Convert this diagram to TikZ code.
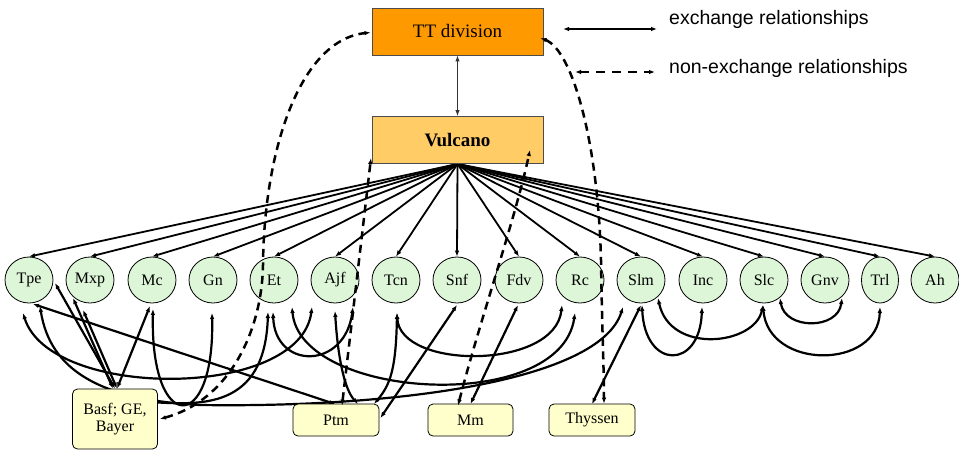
\documentclass[tikz,border=0pt]{standalone}
\usepackage{fontspec}
\setmainfont{Liberation Serif}
\newfontfamily\lsans{Liberation Sans}
\usetikzlibrary{arrows.meta,shapes.geometric,backgrounds}
\definecolor{ttorange}{HTML}{FF9900}
\definecolor{vulc}{HTML}{FFCC66}
\definecolor{cgreen}{HTML}{DDF6D8}
\definecolor{cyellow}{HTML}{FFFFCC}
\tikzset{
  >={Latex[length=6pt,width=4.6pt]},
  circ/.style={ellipse,draw=black,line width=0.8pt,fill=cgreen,minimum width=48pt,minimum height=46pt,inner sep=0pt,font=\fontsize{16}{18}\selectfont},
  ybox/.style={rectangle,rounded corners=5pt,draw=black,line width=0.8pt,fill=cyellow,minimum width=86pt,minimum height=32pt,inner sep=0pt,font=\fontsize{16}{17}\selectfont},
  topbox/.style={rectangle,draw=black!70,line width=0.9pt,minimum width=171pt,minimum height=47pt,inner sep=0pt},
  ex/.style={line width=2.2pt,<->},
  exone/.style={line width=2.2pt,<-},
  fan/.style={line width=1.8pt,->},
  nex/.style={line width=2.5pt,dash pattern=on 8pt off 5.5pt,<->},
  legtext/.style={anchor=west,font=\lsans\fontsize{19.5}{22}\selectfont,inner sep=0pt}
}
\begin{document}
\begin{tikzpicture}[x=1pt,y=-1pt]
\useasboundingbox (0,0) rectangle (959,450);
% top boxes
\node[topbox,fill=ttorange,font=\fontsize{19}{21}\selectfont] (tt) at (457.5,31.5) {TT division};
\node[topbox,fill=vulc,font=\fontsize{19}{21}\selectfont\bfseries] (vul) at (457.5,140) {Vulcano};
% circles
\node[circ] (tpe) at (29,280) {Tpe};
\node[circ] (mxp) at (90,280) {Mxp};
\node[circ] (mc) at (152,280) {Mc};
\node[circ] (gn) at (213,280) {Gn};
\node[circ] (et) at (274,280) {Et};
\node[circ] (ajf) at (335,280) {Ajf};
\node[circ] (tcn) at (396,280) {Tcn};
\node[circ] (snf) at (457,280) {Snf};
\node[circ] (fdv) at (519,280) {Fdv};
\node[circ] (rc) at (580,280) {Rc};
\node[circ] (slm) at (641,280) {Slm};
\node[circ] (inc) at (703,280) {Inc};
\node[circ] (slc) at (764,280) {Slc};
\node[circ] (gnv) at (825,280) {Gnv};
\node[circ,minimum width=37pt] (trl) at (880,280) {Trl};
\node[circ] (ah) at (935,280) {Ah};
% bottom boxes
\node[ybox,minimum width=85pt,minimum height=60pt,align=center] (basf) at (115,419) {Basf; GE,\\Bayer};
\node[ybox] (ptm) at (336,420) {Ptm};
\node[ybox,minimum width=85pt] (mm) at (470.5,420) {Mm};
\node[ybox] (thy) at (592,420) {Thyssen};
% legend
\coordinate (l1a) at (563,29);
\coordinate (l1b) at (657,29);
\coordinate (l2a) at (575,72);
\coordinate (l2b) at (655,72);
\draw[line width=1.3pt,<->] (l1a) -- (l1b);
\draw[nex,dash pattern=on 9pt off 7pt] (l2a) -- (l2b);
\node[legtext] (lt1) at (669,19) {exchange relationships};
\node[legtext] (lt2) at (669,68) {non-exchange relationships};

\begin{pgfonlayer}{background}
% TT -- Vulcano
\draw[line width=1pt,draw=black!80,{Latex[length=6pt,width=4.5pt]}-{Latex[length=6pt,width=4.5pt]}] (tt.south) -- (vul.north);
% fan
\foreach \n in {tpe,mxp,mc,gn,et,ajf,tcn,snf,fdv,rc,slm,inc,slc,gnv,trl,ah}
  \draw[fan] (vul.south) -- (\n.north);
% exchange connectors
\draw[ex] ([shift={(4,24)}]tpe.center) -- ([shift={(-1,-16)}]ptm.center);
\draw[ex] ([shift={(-6,33)}]tpe.center) .. controls (50,400) and (300,400) .. ([shift={(-23,27)}]ajf.center);
\draw[ex] ([shift={(11,26)}]tpe.center) .. controls (50,370) and (100,400) .. (200,405) .. controls (400,408) and (600,380) .. ([shift={(-18,27)}]slm.center);
\draw[ex] ([shift={(26,3)}]tpe.center) -- (basf.north);
\draw[ex] ([shift={(-17,18)}]mxp.center) -- ([shift={(-2,0)}]basf.north);
\draw[ex] ([shift={(-7,30)}]mxp.center) -- ([shift={(2,0)}]basf.north);
\draw[ex] ([shift={(-2,26)}]mc.center) -- ([shift={(2,0)}]basf.north);
\draw[ex] ([shift={(1,29)}]mc.center) .. controls (150,435) and (215,435) .. ([shift={(-1,33)}]gn.center);
\draw[exone] ([shift={(-6,32)}]et.center) .. controls (265,410) and (200,405) .. ([shift={(35,-17)}]basf.center);
\draw[ex] ([shift={(-1,32)}]et.center) .. controls (275,370) and (345,370) .. ([shift={(18,27)}]ajf.center);
\draw[ex] ([shift={(18,27)}]et.center) .. controls (300,400) and (560,415) .. ([shift={(-5,33)}]rc.center);
\draw[ex] ([shift={(1,33)}]tcn.center) .. controls (400,370) and (555,370) .. ([shift={(-18,25)}]rc.center);
\draw[ex] ([shift={(0,31)}]ajf.center) .. controls (338,360) and (345,390) .. ([shift={(22,-16)}]ptm.center);
\draw[ex] ([shift={(1,33)}]tcn.center) .. controls (396,370) and (390,385) .. ([shift={(38,-16)}]ptm.center);
\draw[ex] ([shift={(0,25)}]snf.center) -- ([shift={(1,-2)}]ptm.east);
\draw[ex] ([shift={(-1,25)}]fdv.center) -- ([shift={(0,-16)}]mm.center);
\draw[ex] ([shift={(0,25)}]slm.center) -- ([shift={(0,-16)}]thy.center);
\draw[ex] ([shift={(1,25)}]slm.center) .. controls (645,370) and (700,370) .. ([shift={(-1,27)}]inc.center);
\draw[ex] ([shift={(17,18)}]slm.center) .. controls (670,355) and (755,345) .. ([shift={(-1,25)}]slc.center);
\draw[ex] ([shift={(16,18)}]slc.center) .. controls (785,330) and (838,330) .. ([shift={(17,18)}]gnv.center);
\draw[ex] ([shift={(-1,25)}]slc.center) .. controls (768,370) and (878,370) .. ([shift={(0,27)}]trl.center);
\end{pgfonlayer}

% non-exchange (dashed) connectors
\draw[nex] ([shift={(2,0)}]basf.east) .. controls (230,400) and (262,330) .. (263,265) .. controls (264,150) and (300,40) .. ([shift={(-1,1)}]tt.west);
\draw[nex] ([shift={(-3,6.5)}]tt.east) .. controls (572,50) and (598,140) .. (601,260) .. controls (602,330) and (604,370) .. ([shift={(12,0)}]thy.north);
\draw[nex] ([shift={(6,2)}]ptm.north) -- ([shift={(-86.5,18)}]vul.center);
\draw[nex] ([shift={(-12.5,2)}]mm.north) .. controls (480,320) and (515,220) .. ([shift={(72.5,10)}]vul.center);
\end{tikzpicture}
\end{document}
